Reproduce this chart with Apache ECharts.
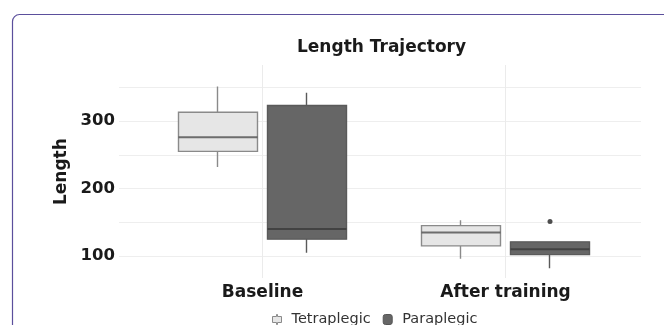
<!DOCTYPE html>
<html>
<head>
<meta charset="utf-8">
<script src="https://cdn.jsdelivr.net/npm/echarts@6/dist/echarts.min.js"></script>
<style>
html,body{margin:0;padding:0;background:#fff;}
#c{width:664px;height:325px;}
</style>
</head>
<body>
<div id="c"></div>
<script>
// ---- data ----
const categories = ['Baseline', 'After training'];
const seriesNames = ['Tetraplegic', 'Paraplegic'];
const tetraMin = [232, 96];
const tetraQ1  = [255, 115];
const tetraMed = [276, 135];
const tetraQ3  = [313, 145];
const tetraMax = [351, 153];
const paraMin  = [105, 82];
const paraQ1   = [125, 102];
const paraMed  = [140, 110];
const paraQ3   = [323, 121];
const paraMax  = [342, 121];
const paraOutlierCat = [1];      // index into categories
const paraOutlierVal = [151];
const yTickLabels = [100, 200, 300];

// ---- layout (pixels / styling) ----
const FONT = 'DejaVu Sans';
const yMin = 50, yMax = 400, yStep = 50;
const plotTop = 53.5, plotH = 236.25;           // y mapping grid
const center1 = 262.5, unitPx = 243;           // x mapping of categories
const boxPx = 80, boxGapPx = 9;                 // dodged box width / gap
const dodgeUnits = (boxPx + boxGapPx) / 2 / unitPx;
const xGridLeft = center1 - unitPx / 2, xGridW = unitPx * 2;

// candlestick item: [x, open(Q1), close(Q3), low(min), high(max)]
function boxes(mn, q1, q3, mx, sign) {
  return categories.map((c, i) => [i + 1 + sign * dodgeUnits, q1[i], q3[i], mn[i], mx[i]]);
}
function medians(md, sign) {
  return categories.map((c, i) => [i + 1 + sign * dodgeUnits, md[i]]);
}

const tetraStyle = {color: '#e6e6e6', color0: '#e6e6e6', borderColor: '#8a8a8a', borderColor0: '#8a8a8a', borderColorDoji: '#8a8a8a', borderWidth: 1.4};
const paraStyle  = {color: '#666666', color0: '#666666', borderColor: '#5a5a5a', borderColor0: '#5a5a5a', borderColorDoji: '#5a5a5a', borderWidth: 1.4};

const chart = echarts.init(document.getElementById('c'), null, {renderer: 'canvas'});
chart.setOption({
  backgroundColor: '#ffffff',
  animation: false,
  textStyle: {fontFamily: FONT},
  title: {
    text: 'Length Trajectory',
    left: 292, top: 34,
    textStyle: {fontFamily: FONT, fontWeight: 'bold', fontSize: 17, color: '#1a1a1a'}
  },
  legend: {
    left: 267, top: 307,
    itemWidth: 9, itemHeight: 10, itemGap: 12,
    textStyle: {fontFamily: FONT, fontSize: 14.5, color: '#333', padding: [0, 0, 0, 5]},
    data: [
      {name: seriesNames[0], icon: 'path://M4,0h1v2h4v6h-4v2h-1v-2h-4v-6h4z', itemStyle: {color: '#e6e6e6', borderColor: '#8a8a8a', borderWidth: 1}},
      {name: seriesNames[1], icon: 'roundRect', itemStyle: {color: '#666666', borderColor: '#555', borderWidth: 1}}
    ]
  },
  graphic: [{
    type: 'rect', z: -10, silent: true,
    shape: {x: 12.5, y: 14.5, width: 720, height: 400, r: 7},
    style: {fill: 'none', stroke: '#5b4f9c', lineWidth: 1.2}
  }],
  grid: [
    {left: 119, width: 522, top: plotTop, height: plotH},        // horizontal gridlines + y labels
    {left: xGridLeft, width: xGridW, top: 65, height: 213},        // category labels + vertical gridlines
    {left: xGridLeft, width: xGridW, top: plotTop, height: plotH}  // boxes
  ],
  xAxis: [
    {gridIndex: 0, type: 'value', show: false, min: 0, max: 1},
    {gridIndex: 1, type: 'category', data: categories,
     axisLine: {show: false},
     axisTick: {show: true, inside: true, alignWithLabel: true, length: 213, lineStyle: {color: '#ebebeb', width: 1}},
     splitLine: {show: false},
     axisLabel: {margin: 6, fontFamily: FONT, fontWeight: 'bold', fontSize: 17, color: '#1a1a1a'}
    },
    {gridIndex: 2, type: 'value', show: false, min: 0.5, max: categories.length + 0.5, splitLine: {show: false}}
  ],
  yAxis: [
    {gridIndex: 0, type: 'value', min: yMin, max: yMax, interval: yStep,
     name: 'Length', nameLocation: 'middle', nameRotate: 90, nameGap: 35,
     nameTextStyle: {fontFamily: FONT, fontWeight: 'bold', fontSize: 17, color: '#1a1a1a'},
     axisLine: {show: false}, axisTick: {show: false},
     axisLabel: {margin: 4, fontFamily: FONT, fontWeight: 'bold', fontSize: 16.5, color: '#1a1a1a',
       showMinLabel: false, showMaxLabel: false,
       formatter: v => (yTickLabels.indexOf(v) >= 0 ? String(v) : '')},
     splitLine: {show: true, showMinLine: false, showMaxLine: false, lineStyle: {color: '#eeeeee', width: 1}}
    },
    {gridIndex: 1, type: 'value', show: false, min: 0, max: 1, splitLine: {show: false}},
    {gridIndex: 2, type: 'value', show: false, min: yMin, max: yMax, splitLine: {show: false}}
  ],
  series: [
    {
      name: seriesNames[0], type: 'candlestick', xAxisIndex: 2, yAxisIndex: 2,
      barWidth: boxPx, clip: false, z: 3,
      itemStyle: tetraStyle,
      data: boxes(tetraMin, tetraQ1, tetraQ3, tetraMax, -1)
    },
    {
      name: seriesNames[1], type: 'candlestick', xAxisIndex: 2, yAxisIndex: 2,
      barWidth: boxPx, clip: false, z: 3,
      itemStyle: paraStyle,
      data: boxes(paraMin, paraQ1, paraQ3, paraMax, 1)
    },
    {
      name: 'medT', type: 'scatter', xAxisIndex: 2, yAxisIndex: 2, z: 4, silent: true,
      symbol: 'rect', symbolSize: [boxPx - 1, 2],
      itemStyle: {color: '#4f4f4f'},
      data: medians(tetraMed, -1)
    },
    {
      name: 'medP', type: 'scatter', xAxisIndex: 2, yAxisIndex: 2, z: 4, silent: true,
      symbol: 'rect', symbolSize: [boxPx - 1, 2],
      itemStyle: {color: '#3a3a3a'},
      data: medians(paraMed, 1)
    },
    {
      name: 'outP', type: 'scatter', xAxisIndex: 2, yAxisIndex: 2, z: 4, silent: true,
      symbol: 'circle', symbolSize: 5,
      itemStyle: {color: '#222222'},
      data: paraOutlierCat.map((ci, k) => [ci + 1 + dodgeUnits, paraOutlierVal[k]])
    }
  ]
});
</script>
</body>
</html>
